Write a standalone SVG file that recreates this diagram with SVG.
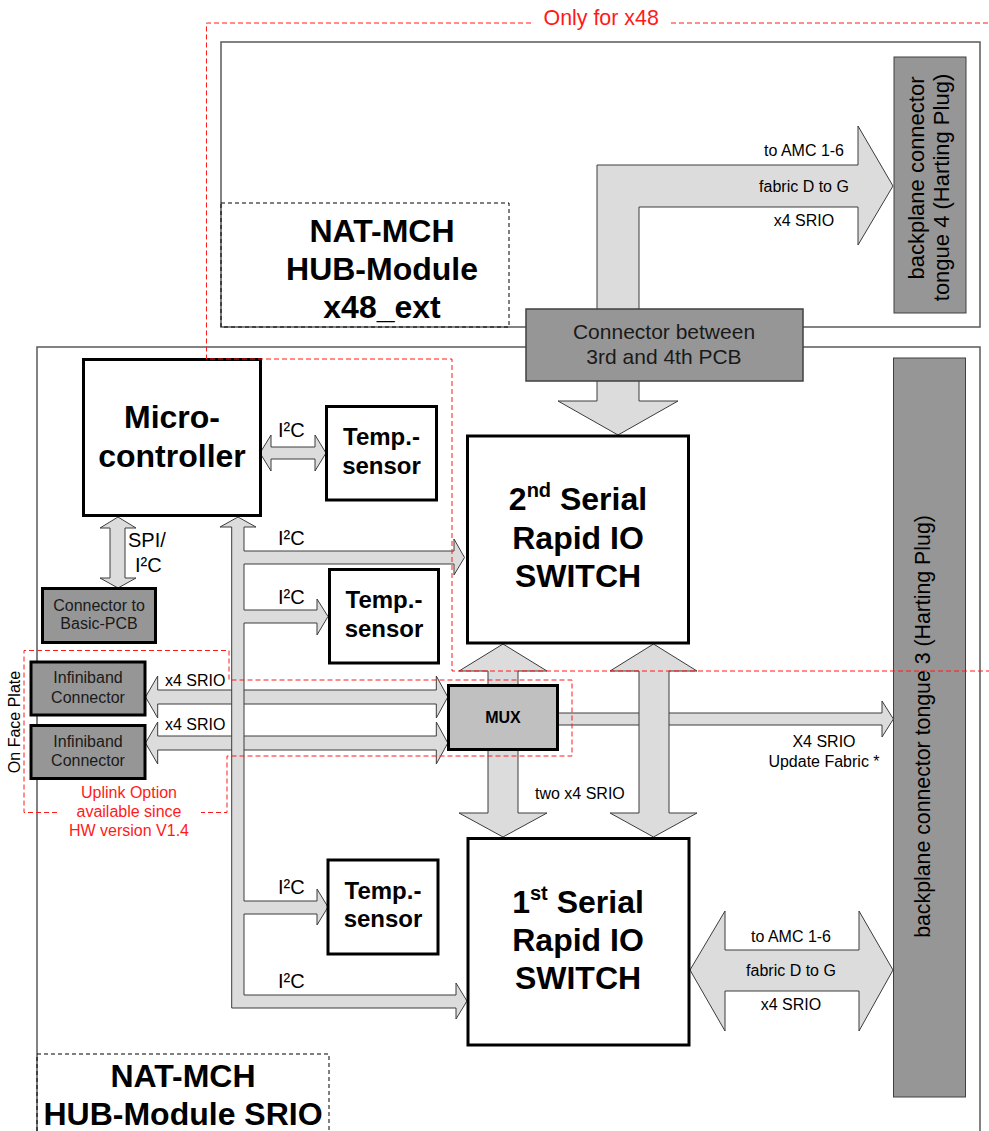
<svg xmlns="http://www.w3.org/2000/svg" width="989" height="1131" viewBox="0 0 989 1131">
<style>
text{font-family:"Liberation Sans",Arial,sans-serif;fill:#000}
.outer{fill:#fff;stroke:#5a5a5a;stroke-width:1.5}
.lbl{fill:none;stroke:#000;stroke-width:1;stroke-dasharray:4 3}
.red{fill:none;stroke:#ff1a1a;stroke-width:1;stroke-dasharray:5 3}
.arr{fill:#dcdcdc;stroke:#3c3c3c;stroke-width:1;stroke-linejoin:miter}
.box{fill:#fff;stroke:#000;stroke-width:3}
.gbox{fill:#969696;stroke:#000;stroke-width:3}
.tong{fill:#969696;stroke:#404040;stroke-width:1}
.big{font-size:32px;font-weight:bold;text-anchor:middle}
.tmp{font-size:24px;font-weight:bold;text-anchor:middle}
.s16{font-size:16px}
.mid{text-anchor:middle}
.i2c{font-size:20px}
.redt{fill:#ff1a1a}
</style>

<g id="module-x48-ext">
<rect class="outer" x="221" y="42" width="759" height="285"/>
<rect class="lbl" x="221" y="203" width="288" height="124"/>
<text class="big" x="382" y="242">NAT-MCH</text>
<text class="big" x="382" y="280">HUB-Module</text>
<text class="big" x="382" y="318">x48_ext</text>
</g>

<g id="module-srio">
<rect class="outer" x="37" y="347" width="943" height="820"/>
<rect class="lbl" x="37" y="1054" width="292" height="100"/>
<text class="big" x="183" y="1087">NAT-MCH</text>
<text class="big" x="183" y="1125">HUB-Module SRIO</text>
</g>

<g id="tongue4">
<rect class="tong" x="894" y="57" width="72" height="256"/>
<text style="font-size:22px" class="mid" transform="translate(924,178) rotate(-90)">backplane connector</text>
<text style="font-size:22px" class="mid" transform="translate(949,187.5) rotate(-90)">tongue 4 (Harting Plug)</text>
</g>

<g id="tongue3">
<rect class="tong" x="893.5" y="358" width="72" height="739"/>
<text style="font-size:21.3px" class="mid" transform="translate(930,726.5) rotate(-90)">backplane connector tongue 3 (Harting Plug)</text>
</g>

<g id="connectors">
<polygon class="arr" points="597,315 597,165 858,165 858,126 893,186 858,245 858,207 639,207 639,315"/>
<polygon class="arr" points="597,375 597,401 558,401 618,435 678,401 639,401 639,375"/>
<polygon class="arr" points="553,713 882,713 882,701 893.4,719 882,737 882,725 553,725"/>
<polygon class="arr" points="488,690 488,671 459,671 503,644 547,671 518,671 518,690"/>
<polygon class="arr" points="488,745 488,813 459,813 503,837 547,813 518,813 518,745"/>
<polygon class="arr" points="653.5,644 697,671 669,671 669,813 697,813 653.5,837 610,813 639,813 639,671 610,671"/>
<polygon class="arr" points="690,970 725,911 725,950 859,950 859,911 893,970 859,1031 859,991 725,991 725,1031"/>
<polygon class="arr" points="145.5,697 157.7,676 157.7,690 436.3,690 436.3,676 447.8,697 436.3,718 436.3,704 157.7,704 157.7,718"/>
<polygon class="arr" points="145.5,743 157.7,722 157.7,736 436.3,736 436.3,722 447.8,743 436.3,764 436.3,750 157.7,750 157.7,764"/>
<polygon class="arr" points="260,453 271,435 271,447 315,447 315,435 326,453 315,471 315,459 271,459 271,471"/>
<polygon class="arr" points="118,517 136,528 125,528 125,578 136,578 118,588 100,578 110,578 110,528 100,528"/>
<polygon class="arr" points="238,517 256,527 244,527 244,551 454,551 454,539 464.5,557.5 454,575 454,564 244,564 244,610 317,610 317,599 328,616.5 317,635 317,623 244,623 244,901 317,901 317,889 328,907 317,925 317,914 244,914 244,995 456,995 456,983 467,1001 456,1019 456,1008 231.7,1008 231.7,527 220,527"/>
<text class="s16 mid" x="804" y="156">to AMC 1-6</text>
<text class="s16 mid" x="804" y="191.5">fabric D to G</text>
<text class="s16 mid" x="804" y="225.5">x4 SRIO</text>
<text class="s16 mid" x="791" y="942">to AMC 1-6</text>
<text class="s16 mid" x="791" y="975.5">fabric D to G</text>
<text class="s16 mid" x="791" y="1010">x4 SRIO</text>
<text class="s16 mid" x="824" y="747">X4 SRIO</text>
<text class="s16 mid" x="824" y="767">Update Fabric *</text>
<text class="s16" x="535" y="799">two x4 SRIO</text>
<text class="s16" x="165" y="685.5">x4 SRIO</text>
<text class="s16" x="165" y="730">x4 SRIO</text>
<text class="i2c" x="278" y="437">I²C</text>
<text class="i2c" x="278" y="545">I²C</text>
<text class="i2c" x="278" y="604">I²C</text>
<text class="i2c" x="278" y="894">I²C</text>
<text class="i2c" x="278" y="987.5">I²C</text>
<text class="i2c" x="128" y="547">SPI/</text>
<text class="i2c" x="135" y="572">I²C</text>
</g>

<g id="connector-pcb">
<rect x="526" y="309" width="277" height="72" fill="#969696" stroke="#404040" stroke-width="1.5"/>
<text class="mid" style="font-size:21px;fill:#1a1a1a" x="664" y="339">Connector between</text>
<text class="mid" style="font-size:21px;fill:#1a1a1a" x="664" y="364">3rd and 4th PCB</text>
</g>

<g id="microcontroller">
<rect class="box" x="83.5" y="359.5" width="177" height="156"/>
<text class="big" x="172" y="428">Micro-</text>
<text class="big" x="172" y="466.5">controller</text>
</g>

<g id="temp1">
<rect class="box" x="326.5" y="406.5" width="110" height="93.5"/>
<text class="tmp" x="381.5" y="445">Temp.-</text>
<text class="tmp" x="381.5" y="474">sensor</text>
</g>

<g id="temp2">
<rect class="box" x="329.5" y="569.5" width="109" height="93.5"/>
<text class="tmp" x="384" y="608">Temp.-</text>
<text class="tmp" x="384" y="637">sensor</text>
</g>

<g id="temp3">
<rect class="box" x="328" y="860" width="110" height="94"/>
<text class="tmp" x="383" y="899">Temp.-</text>
<text class="tmp" x="383" y="927">sensor</text>
</g>

<g id="connector-basic-pcb">
<rect class="gbox" x="42.5" y="588.5" width="113" height="54"/>
<text class="s16 mid" style="fill:#1a1a1a" x="99" y="611">Connector to</text>
<text class="s16 mid" style="fill:#1a1a1a" x="99" y="629">Basic-PCB</text>
</g>

<g id="infiniband1">
<rect class="gbox" x="31" y="662" width="114" height="53"/>
<text class="s16 mid" style="fill:#1a1a1a" x="88" y="683">Infiniband</text>
<text class="s16 mid" style="fill:#1a1a1a" x="88" y="702.5">Connector</text>
</g>

<g id="infiniband2">
<rect class="gbox" x="31" y="725.5" width="114" height="53"/>
<text class="s16 mid" style="fill:#1a1a1a" x="88" y="746.5">Infiniband</text>
<text class="s16 mid" style="fill:#1a1a1a" x="88" y="766">Connector</text>
</g>

<g id="mux">
<rect x="448.5" y="685.5" width="109" height="64" fill="#c0c0c0" stroke="#000" stroke-width="3"/>
<text class="mid" style="font-size:16px;font-weight:bold" x="503" y="722.5">MUX</text>
</g>

<g id="switch2">
<rect class="box" x="467.5" y="436" width="221" height="207"/>
<text class="big" x="578" y="510">2<tspan style="font-size:20px" dy="-13">nd</tspan><tspan dy="13"> Serial</tspan></text>
<text class="big" x="578" y="549">Rapid IO</text>
<text class="big" x="578" y="587">SWITCH</text>
</g>

<g id="switch1">
<rect class="box" x="468" y="838.5" width="221" height="206.5"/>
<text class="big" x="578" y="913">1<tspan style="font-size:20px" dy="-13">st</tspan><tspan dy="13"> Serial</tspan></text>
<text class="big" x="578" y="951">Rapid IO</text>
<text class="big" x="578" y="989">SWITCH</text>
</g>

<g id="face-plate">
<text class="s16 mid" transform="translate(20,722) rotate(-90)">On Face Plate</text>
</g>

<g id="regions">
<polyline class="red" points="531,23 206.5,23 206.5,359 452,359 452,671 989,671"/>
<line class="red" x1="671" y1="23" x2="989" y2="23"/>
<text class="redt" style="font-size:21.4px" x="543.5" y="25">Only for x48</text>
<polyline class="red" points="57,812.5 24,812.5 24,650.5 229,650.5 229,680 572,680 572,756 227,756 227,812.5 201,812.5"/>
<text class="s16 mid redt" x="129" y="797.5">Uplink Option</text>
<text class="s16 mid redt" x="129" y="817">available since</text>
<text class="s16 mid redt" x="129" y="836">HW version V1.4</text>
</g>
</svg>
